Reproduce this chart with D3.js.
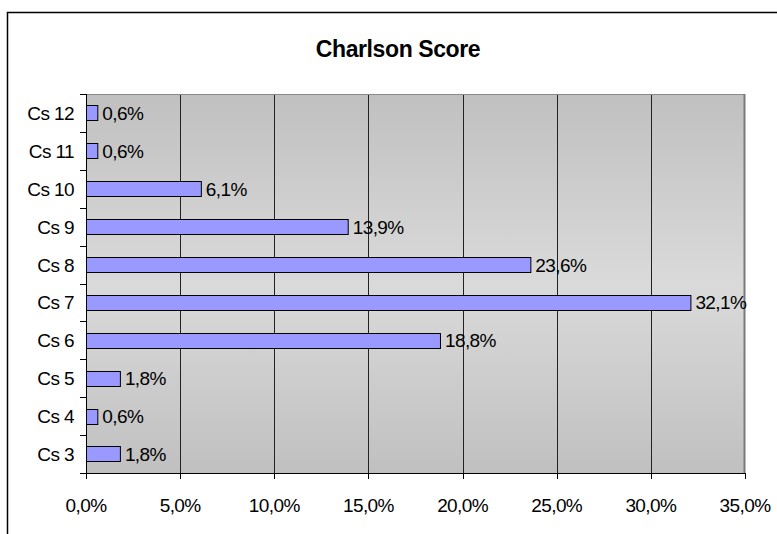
<!DOCTYPE html>
<html>
<head>
<meta charset="utf-8">
<script src="https://cdn.jsdelivr.net/npm/d3@7"></script>
<style>
html,body{margin:0;padding:0;background:#fff;}
svg{display:block;font-family:"Liberation Sans",Arial,sans-serif;}
</style>
</head>
<body>
<svg id="chart" width="777" height="534"></svg>
<script>
const title = "Charlson Score";
const categories = ["Cs 3","Cs 4","Cs 5","Cs 6","Cs 7","Cs 8","Cs 9","Cs 10","Cs 11","Cs 12"];
const values = [1.8, 0.6, 1.8, 18.8, 32.1, 23.6, 13.9, 6.1, 0.6, 0.6];
const xTicks = [0, 5, 10, 15, 20, 25, 30, 35];

const fmt = v => v.toFixed(1).replace(".", ",") + "%";

const svg = d3.select("#chart");
const plot = {left: 86, right: 745, top: 94, bottom: 473};
const FS = 19, LS = -0.6;

// outer chart border (only top/left visible)
svg.append("rect").attr("x", 7.5).attr("y", 12.5).attr("width", 900).attr("height", 900)
  .attr("fill", "none").attr("stroke", "#000").attr("stroke-width", 1.5);

// title
svg.append("text").attr("x", 398).attr("y", 56.5).attr("text-anchor", "middle")
  .attr("font-weight", "bold").attr("font-size", 23).attr("letter-spacing", -0.4)
  .text(title);

const x = d3.scaleLinear().domain([0, 35]).range([plot.left, plot.right]);
const y = d3.scaleBand().domain(categories.slice().reverse()).range([plot.top, plot.bottom]).paddingInner(0.6).paddingOuter(0.3);
const yb = d3.scaleBand().domain(categories.slice().reverse()).range([plot.top, plot.bottom]);

// gradient background
const defs = svg.append("defs");
const grad = defs.append("linearGradient").attr("id", "bg").attr("x1", 0).attr("y1", 0).attr("x2", 0).attr("y2", 1);
grad.append("stop").attr("offset", "0%").attr("stop-color", "#c0c0c0");
grad.append("stop").attr("offset", "50%").attr("stop-color", "#dadada");
grad.append("stop").attr("offset", "100%").attr("stop-color", "#c0c0c0");

svg.append("rect").attr("x", plot.left).attr("y", plot.top)
  .attr("width", plot.right - plot.left).attr("height", plot.bottom - plot.top)
  .attr("fill", "url(#bg)");

// gridlines
svg.append("g").selectAll("line").data(xTicks.filter(t => t > 0 && t < 35)).join("line")
  .attr("x1", d => Math.round(x(d)) + 0.5).attr("x2", d => Math.round(x(d)) + 0.5)
  .attr("y1", plot.top).attr("y2", plot.bottom)
  .attr("stroke", "#222").attr("stroke-width", 1);

// plot border top/right
svg.append("line").attr("x1", plot.left).attr("x2", plot.right).attr("y1", plot.top + 0.5).attr("y2", plot.top + 0.5)
  .attr("stroke", "#8a8a8a").attr("stroke-width", 1);
svg.append("line").attr("x1", plot.right - 0.5).attr("x2", plot.right - 0.5).attr("y1", plot.top).attr("y2", plot.bottom)
  .attr("stroke", "#7a7a7a").attr("stroke-width", 2);

// bars
svg.append("g").selectAll("rect").data(categories.map((c, i) => ({c, v: values[i]}))).join("rect")
  .attr("x", x(0) + 0.5)
  .attr("y", d => Math.round(y(d.c)) + 0.5)
  .attr("width", d => x(d.v) - x(0))
  .attr("height", Math.round(y.bandwidth()))
  .attr("fill", "#9999ff").attr("stroke", "#000").attr("stroke-width", 1);

// value labels
svg.append("g").selectAll("text").data(categories.map((c, i) => ({c, v: values[i]}))).join("text")
  .attr("x", d => x(d.v) + 5)
  .attr("y", d => yb(d.c) + yb.bandwidth() / 2 + 7)
  .attr("font-size", FS).attr("letter-spacing", LS)
  .text(d => fmt(d.v));

// y axis
const yAxis = svg.append("g");
yAxis.append("line").attr("x1", plot.left + 0.5).attr("x2", plot.left + 0.5).attr("y1", plot.top).attr("y2", plot.bottom)
  .attr("stroke", "#000");
const yTickPos = d3.range(categories.length + 1).map(i => plot.top + i * yb.step());
yAxis.selectAll("line.t").data(yTickPos).join("line").attr("class", "t")
  .attr("x1", plot.left - 6).attr("x2", plot.left)
  .attr("y1", d => Math.round(d) + 0.5).attr("y2", d => Math.round(d) + 0.5)
  .attr("stroke", "#000");
yAxis.selectAll("text").data(categories).join("text")
  .attr("x", 74).attr("y", d => yb(d) + yb.bandwidth() / 2 + 7)
  .attr("text-anchor", "end").attr("font-size", FS).attr("letter-spacing", LS)
  .text(d => d);

// x axis
const xAxis = svg.append("g");
xAxis.append("line").attr("x1", plot.left).attr("x2", plot.right).attr("y1", plot.bottom + 0.5).attr("y2", plot.bottom + 0.5)
  .attr("stroke", "#000");
xAxis.selectAll("line.t").data(xTicks).join("line").attr("class", "t")
  .attr("x1", d => Math.round(x(d)) + 0.5).attr("x2", d => Math.round(x(d)) + 0.5)
  .attr("y1", plot.bottom).attr("y2", plot.bottom + 6)
  .attr("stroke", "#000");
xAxis.selectAll("text").data(xTicks).join("text")
  .attr("x", d => x(d)).attr("y", 511.5)
  .attr("text-anchor", "middle").attr("font-size", FS).attr("letter-spacing", LS)
  .text(d => fmt(d));
</script>
</body>
</html>
